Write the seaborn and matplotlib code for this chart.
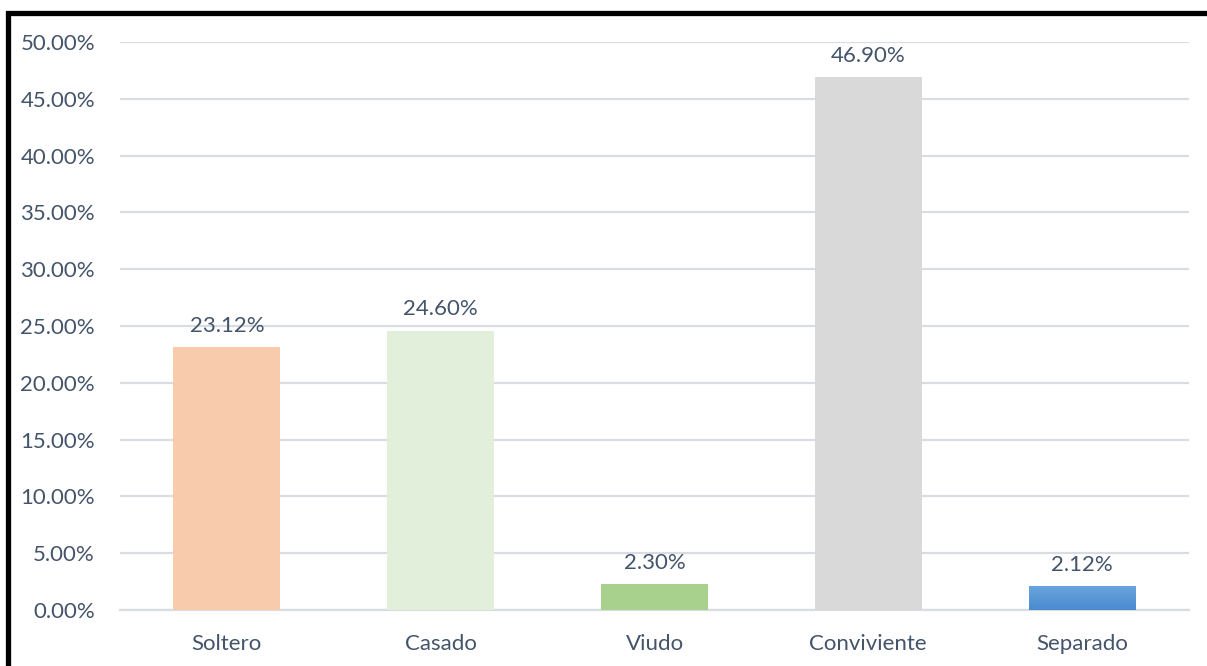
import matplotlib
matplotlib.use("Agg")
import matplotlib.pyplot as plt
from matplotlib.patches import Rectangle
import numpy as np
import pandas as pd
import seaborn as sns

categories = ["Soltero", "Casado", "Viudo", "Conviviente", "Separado"]
values = [23.12, 24.60, 2.30, 46.90, 2.12]
colors = ["#F7CBAC", "#E2EFDA", "#A9D18E", "#D9D9D9", "#5B9BD5"]
yticks = [0, 5, 10, 15, 20, 25, 30, 35, 40, 45, 50]

text_color = "#44546A"
grid_color = "#D9DDE3"

sns.set_theme(style="white")
plt.rcParams["font.family"] = ["Lato", "DejaVu Sans"]

W, H = 1207, 666
fig = plt.figure(figsize=(W / 100, H / 100), dpi=100)
ax = fig.add_axes([120 / W, 1 - 610 / H, (1189 - 120) / W, (610 - 42) / H])

df = pd.DataFrame({"estado": categories, "pct": values})
sns.barplot(data=df, x="estado", y="pct", hue="estado", palette=colors,
            width=0.5, legend=False, ax=ax, saturation=1, zorder=3,
            linewidth=0)

# vertical gradient on the last bar
sep = ax.patches[-1]
x0, y0 = sep.get_x(), sep.get_y()
w, h = sep.get_width(), sep.get_height()
grad = np.linspace(0, 1, 64).reshape(-1, 1)
cmap = matplotlib.colors.LinearSegmentedColormap.from_list("sep", ["#4A8BCF", "#6AA5DE"])
img = ax.imshow(grad, extent=[x0, x0 + w, y0, y0 + h], origin="lower",
                cmap=cmap, aspect="auto", zorder=4)
img.set_clip_path(sep)

ax.set_xlim(-0.5, 4.5)
ax.set_ylim(0, 50)
ax.set_yticks(yticks)
ax.set_yticklabels([f"{t:.2f}%" for t in yticks])
ax.set_xlabel("")
ax.set_ylabel("")
ax.grid(axis="y", color=grid_color, linewidth=1.6, zorder=0)
ax.set_axisbelow(True)
for s in ["top", "right", "left"]:
    ax.spines[s].set_visible(False)
ax.spines["bottom"].set_color(grid_color)
ax.spines["bottom"].set_linewidth(1.6)
ax.tick_params(axis="both", length=0, labelsize=16, colors=text_color)
ax.tick_params(axis="y", pad=18)
ax.tick_params(axis="x", pad=17)

for i, v in enumerate(values):
    ax.annotate(f"{v:.2f}%", (i, v), xytext=(0, 8), textcoords="offset points",
                ha="center", va="bottom", fontsize=16, color=text_color)

# outer frame
fig.add_artist(Rectangle((7.5 / W, -0.2), 1.5, (H - 12.5) / H + 0.2,
                         transform=fig.transFigure, fill=False,
                         edgecolor="black", linewidth=3.8, clip_on=False))

fig.savefig("out.png", dpi=100)
